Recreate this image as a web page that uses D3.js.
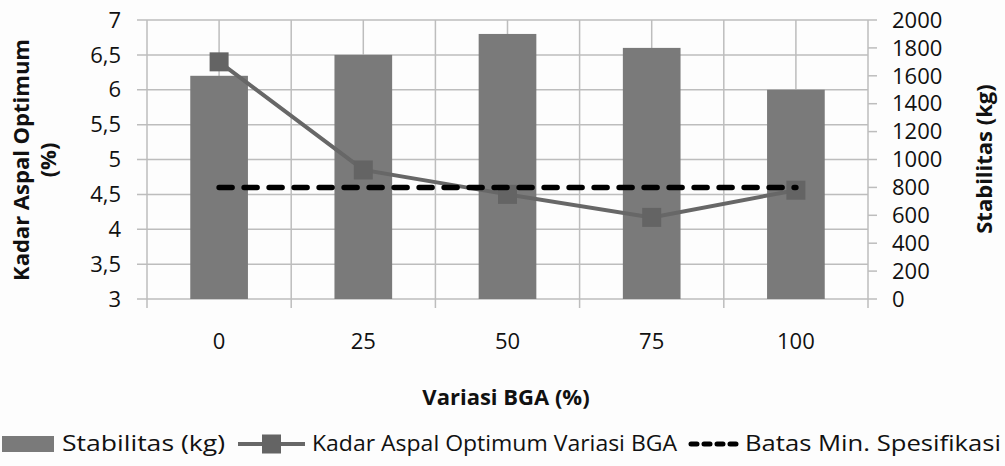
<!DOCTYPE html>
<html>
<head>
<meta charset="utf-8">
<script src="https://cdn.jsdelivr.net/npm/d3@7"></script>
<style>
  body { margin: 0; background: #fdfdfd; }
  text { font-family: "Open Sans", "DejaVu Sans", sans-serif; fill: #111; }
</style>
</head>
<body>
<script>
// data
const categories = ['0', '25', '50', '75', '100']
const stabilitas = [1600, 1750, 1900, 1800, 1500]     // kg, right axis
const kadarAspal = [6.4, 4.85, 4.5, 4.17, 4.56]       // %, left axis
const batasMin = [800, 800, 800, 800, 800]           // kg, right axis
const leftTicks = [3, 3.5, 4, 4.5, 5, 5.5, 6, 6.5, 7]
const rightTicks = [0, 200, 400, 600, 800, 1000, 1200, 1400, 1600, 1800, 2000]

const W = 1005, H = 466
const plot = { left: 147, right: 868, top: 20, bottom: 299 }
const grid = '#bdbdbd'

const svg = d3.select('body').append('svg')
  .attr('width', W).attr('height', H)

const x = d3.scaleBand().domain(categories).range([plot.left, plot.right])
const yL = d3.scaleLinear().domain([3, 7]).range([plot.bottom, plot.top])
const yR = d3.scaleLinear().domain([0, 2000]).range([plot.bottom, plot.top])
const comma = d => String(d).replace('.', ',')

// horizontal gridlines (+ left tick marks)
svg.append('g').selectAll('line')
  .data(leftTicks)
  .enter().append('line')
  .attr('x1', plot.left - 10).attr('x2', plot.right)
  .attr('y1', d => yL(d)).attr('y2', d => yL(d))
  .style('stroke', grid).style('stroke-width', 1.5)

// vertical gridlines at band edges and centres
const edges = categories.map(c => x(c)).concat([plot.right])
const centres = categories.map(c => x(c) + x.bandwidth() / 2)
svg.append('g').selectAll('line')
  .data(edges)
  .enter().append('line')
  .attr('x1', d => d).attr('x2', d => d)
  .attr('y1', plot.top).attr('y2', plot.bottom + 9)
  .style('stroke', grid).style('stroke-width', 1.5)
svg.append('g').selectAll('line')
  .data(centres)
  .enter().append('line')
  .attr('x1', d => d).attr('x2', d => d)
  .attr('y1', plot.top).attr('y2', plot.bottom)
  .style('stroke', grid).style('stroke-width', 1.5)

// right axis tick marks
svg.append('g').selectAll('line')
  .data(rightTicks)
  .enter().append('line')
  .attr('x1', plot.right).attr('x2', plot.right + 9)
  .attr('y1', d => yR(d)).attr('y2', d => yR(d))
  .style('stroke', grid).style('stroke-width', 1.5)

// bars
const bw = x.bandwidth() * 0.4
svg.append('g').selectAll('rect')
  .data(stabilitas)
  .enter().append('rect')
  .attr('x', (d, i) => x(categories[i]) + (x.bandwidth() - bw) / 2)
  .attr('width', bw)
  .attr('y', d => yR(d))
  .attr('height', d => yR(0) - yR(d))
  .style('fill', '#7a7a7a')

// kadar aspal line
const line = d3.line()
  .x((d, i) => centres[i])
  .y(d => yL(d))
svg.append('path')
  .datum(kadarAspal)
  .attr('d', line)
  .style('fill', 'none')
  .style('stroke', '#676767')
  .style('stroke-width', 4)
svg.append('g').selectAll('rect')
  .data(kadarAspal)
  .enter().append('rect')
  .attr('x', (d, i) => centres[i] - 9.5)
  .attr('y', d => yL(d) - 9.5)
  .attr('width', 19).attr('height', 19)
  .style('fill', '#646464')

// batas min dashed line
const dashLine = d3.line()
  .x((d, i) => centres[i])
  .y(d => yR(d))
svg.append('path')
  .datum(batasMin)
  .attr('d', dashLine)
  .style('fill', 'none')
  .style('stroke', '#000')
  .style('stroke-width', 5.5)
  .style('stroke-linecap', 'round')
  .style('stroke-dasharray', '13 12')

// tick labels
svg.append('g').selectAll('text')
  .data(leftTicks)
  .enter().append('text')
  .attr('x', 121).attr('y', d => yL(d))
  .attr('dy', '0.35em')
  .attr('text-anchor', 'end')
  .style('font-size', '22px')
  .text(comma)
svg.append('g').selectAll('text')
  .data(rightTicks)
  .enter().append('text')
  .attr('x', 892).attr('y', d => yR(d))
  .attr('dy', '0.35em')
  .style('font-size', '22px')
  .text(d => d)
svg.append('g').selectAll('text')
  .data(categories)
  .enter().append('text')
  .attr('x', (d, i) => centres[i]).attr('y', 341)
  .attr('dy', '0.35em')
  .attr('text-anchor', 'middle')
  .style('font-size', '22px')
  .text(d => d)

// axis titles
svg.append('text')
  .attr('transform', 'translate(21,160) rotate(-90)')
  .attr('dy', '0.35em')
  .attr('text-anchor', 'middle')
  .style('font-size', '22px').style('font-weight', 'bold')
  .text('Kadar Aspal Optimum')
svg.append('text')
  .attr('transform', 'translate(48,160) rotate(-90)')
  .attr('dy', '0.35em')
  .attr('text-anchor', 'middle')
  .style('font-size', '22px').style('font-weight', 'bold')
  .text('(%)')
svg.append('text')
  .attr('transform', 'translate(984,159) rotate(-90)')
  .attr('dy', '0.35em')
  .attr('text-anchor', 'middle')
  .style('font-size', '22px').style('font-weight', 'bold')
  .text('Stabilitas (kg)')
svg.append('text')
  .attr('x', 506).attr('y', 397)
  .attr('dy', '0.35em')
  .attr('text-anchor', 'middle')
  .style('font-size', '22px').style('font-weight', 'bold')
  .text('Variasi BGA (%)')

// legend
const ly = 444
const legend = svg.append('g')
legend.append('rect')
  .attr('x', 2).attr('y', ly - 8).attr('width', 52).attr('height', 16)
  .style('fill', '#7a7a7a')
legend.append('text')
  .attr('x', 62).attr('y', ly).attr('dy', '0.35em')
  .attr('textLength', 163).attr('lengthAdjust', 'spacingAndGlyphs')
  .style('font-size', '21px')
  .text('Stabilitas (kg)')
legend.append('line')
  .attr('x1', 238).attr('x2', 305).attr('y1', ly).attr('y2', ly)
  .style('stroke', '#676767').style('stroke-width', 4)
legend.append('rect')
  .attr('x', 262).attr('y', ly - 9.5).attr('width', 19).attr('height', 19)
  .style('fill', '#646464')
legend.append('text')
  .attr('x', 312).attr('y', ly).attr('dy', '0.35em')
  .attr('textLength', 365).attr('lengthAdjust', 'spacingAndGlyphs')
  .style('font-size', '21px')
  .text('Kadar Aspal Optimum Variasi BGA')
legend.append('line')
  .attr('x1', 691).attr('x2', 738).attr('y1', ly).attr('y2', ly)
  .style('stroke', '#000').style('stroke-width', 5)
  .style('stroke-linecap', 'round')
  .style('stroke-dasharray', '6 7')
legend.append('text')
  .attr('x', 745).attr('y', ly).attr('dy', '0.35em')
  .attr('textLength', 256).attr('lengthAdjust', 'spacingAndGlyphs')
  .style('font-size', '21px')
  .text('Batas Min. Spesifikasi')
</script>
</body>
</html>
